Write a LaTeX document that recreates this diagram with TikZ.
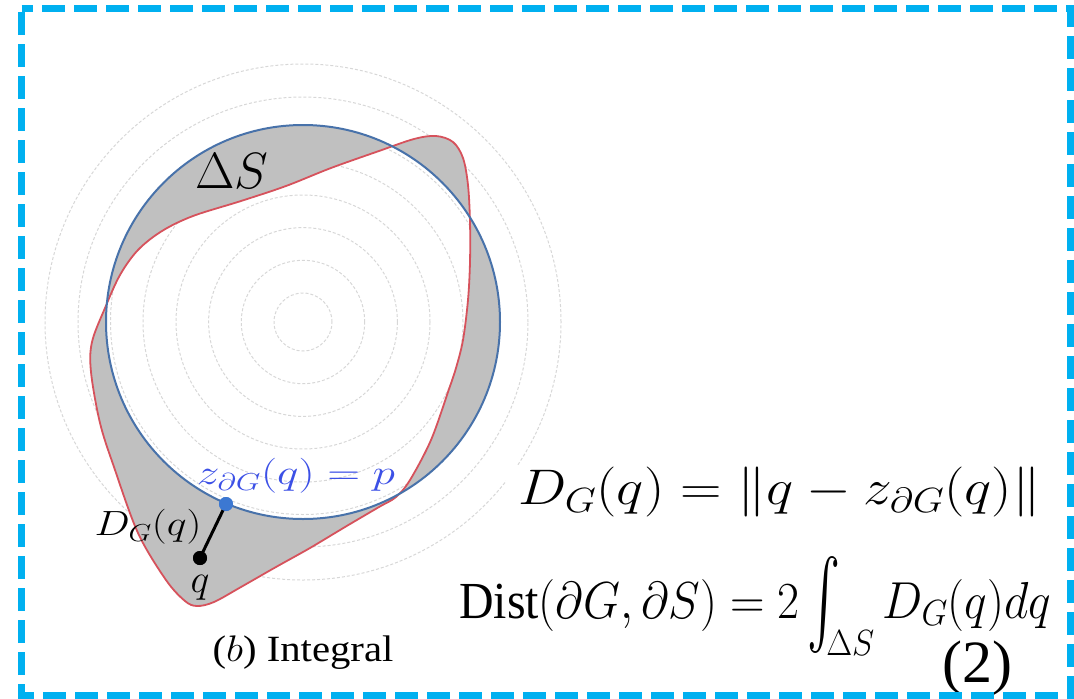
\RequirePackage{fix-cm}
\documentclass[tikz,border=0pt]{standalone}
\usepackage{amsmath}
\usepackage{fontspec}
\setmainfont{Liberation Serif}
\usepackage{graphicx}
\definecolor{bordercyan}{HTML}{00B0F0}
\definecolor{ringgray}{RGB}{215,215,215}
\definecolor{shadegray}{RGB}{192,192,192}
\definecolor{gtline}{RGB}{72,114,170}
\definecolor{predline}{RGB}{214,82,92}
\definecolor{labelblue}{RGB}{60,80,230}
\definecolor{dotblue}{RGB}{60,120,210}
\newcommand{\tallint}{\mathop{\vcenter{\hbox{\resizebox*{36pt}{97pt}{$\int$}}}}\nolimits}
\tikzset{
  ring/.style={draw=ringgray, line width=1pt, dash pattern=on 3pt off 2pt},
  gtcurve/.style={draw=gtline, line width=2pt},
  predcurve/.style={draw=predline, line width=1.8pt},
  dotnode/.style={circle, inner sep=0pt, minimum size=14pt},
  conn/.style={draw=black, line width=3pt},
  border/.style={draw=bordercyan, line width=7pt, dash pattern=on 23pt off 9pt, dash phase=11.5pt},
  lbl/.style={inner sep=0pt},
}
\begin{document}
\begin{tikzpicture}[x=1pt,y=-1pt]
\useasboundingbox (0,0) rectangle (1074,699);
% concentric rings
\foreach \r in {29,61.7,94.4,127,160,192.5,225,258}
  \draw[ring] (303,322) circle[radius=\r pt];
% symmetric difference
\def\predpts{(105,308) (120,275) (138,250) (162,231) (193,216) (241,201) (286,186) (331,168) (379,151) (414,139) (436,136) (453,142) (463,158) (468,185) (470,222) (470,262) (468,300) (463,340) (456,368) (448,392) (431,440) (410,480) (396,497) (379,507) (345,527) (310,548) (276,567) (241,587) (214,602) (197,606) (185,601) (166,580) (138,533) (114,467) (100,423) (91,372) (92,342)}
\fill[shadegray, even odd rule] (303,322) circle[radius=197pt]
  plot[smooth cycle, tension=0.55] coordinates {\predpts};
\draw[predcurve] plot[smooth cycle, tension=0.55] coordinates {\predpts};
\draw[gtcurve] (303,322) circle[radius=197pt];
% points
\node[dotnode, fill=dotblue] (p) at (226,504) {};
\node[dotnode, fill=black] (q) at (200,558) {};
\draw[conn] (q.center) -- (p.center);
\node[dotnode, fill=dotblue] at (p) {};
\node[dotnode, fill=black] at (q) {};
% labels
\node[lbl] (ds) at (232,171) {\fontsize{51}{51}\selectfont$\Delta S$};
\node[lbl] (zl) at (296,476) {\fontsize{35}{35}\selectfont\color{labelblue}\scalebox{1.3}[1]{$z_{\partial G}(q)=p$}};
\node[lbl] (dl) at (148,527) {\fontsize{35}{35}\selectfont\scalebox{1.2}[1]{$D_G(q)$}};
\node[lbl] (ql) at (200,588) {\fontsize{40}{40}\selectfont$q$};
\node[lbl] (cap) at (303,653) {\fontsize{37}{37}\selectfont\scalebox{1.1}[1]{($b$) Integral}};
\node[fill=white, inner xsep=12pt, inner ysep=2pt, anchor=west] (f1) at (506,492)
  {\fontsize{50}{50}\selectfont\scalebox{1.15}[1]{$D_G(q)=\|q-z_{\partial G}(q)\|$}};
\node[fill=white, inner xsep=12pt, inner ysep=0pt, anchor=base west] (f2) at (447,618)
  {\fontsize{52}{52}\selectfont\scalebox{0.92}[1]{$\mathrm{Dist}(\partial G,\partial S)=2\tallint_{\hspace{-16pt}\Delta S}D_G(q)dq$}};
\node[lbl] (eq) at (977,668) {\fontsize{60}{60}\selectfont (2)};
% border
\draw[border] (21.5,8.5) -- (1070.5,8.5) -- (1070.5,695) -- (21.5,695) -- cycle;
\end{tikzpicture}
\end{document}
